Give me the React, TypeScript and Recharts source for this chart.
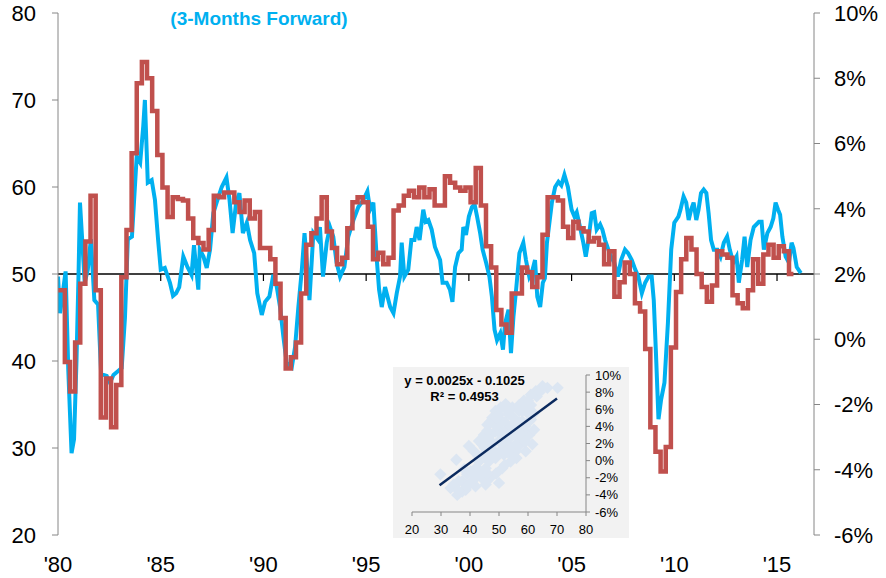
import React from 'react'
import { LineChart, Line, XAxis, YAxis, ReferenceLine, ScatterChart, Scatter } from 'recharts'

const FONT = '"Liberation Sans", Arial, sans-serif'
const BLUE = '#00b0f0'
const RED = '#c0504d'
const AXIS = '#868686'
const NAVY = '#0b2a5e'
const DIAMOND = '#dce6f2'

// ISM (3 months forward), [year, index]
const ismForward: [number, number][] = [
  [1980.0, 49.7], [1980.1, 45.5], [1980.37, 50.3], [1980.5, 39], [1980.66, 29.4], [1980.78, 31],
  [1980.9, 40], [1981.0, 50], [1981.07, 58.2], [1981.3, 49], [1981.45, 50.5], [1981.6, 54],
  [1981.77, 47], [1981.95, 46.5], [1982.1, 38.5], [1982.37, 38.3], [1982.53, 37.5], [1982.7, 38.4],
  [1982.9, 38.8], [1983.1, 39.2], [1983.26, 45], [1983.4, 54], [1983.6, 54.3], [1983.83, 63.5],
  [1984.0, 62.8], [1984.15, 67], [1984.23, 70], [1984.37, 60.5], [1984.56, 60.8], [1984.72, 58.5],
  [1984.87, 54], [1985.0, 50.5], [1985.2, 50.7], [1985.45, 49], [1985.6, 47.5], [1985.75, 47.8],
  [1985.9, 48.5], [1986.1, 52], [1986.3, 50.8], [1986.5, 49.9], [1986.62, 53.3], [1986.83, 48.2],
  [1986.9, 52.8], [1987.08, 52], [1987.24, 50.7], [1987.4, 52.8], [1987.56, 57], [1987.72, 58.2],
  [1987.97, 60], [1988.2, 61.1], [1988.35, 58.5], [1988.5, 54.7], [1988.67, 58.2], [1988.83, 59.3],
  [1989.0, 54.7], [1989.19, 55.9], [1989.35, 53.9], [1989.55, 52.4], [1989.7, 47.8], [1989.92, 45.3],
  [1990.08, 46.8], [1990.29, 47.4], [1990.48, 49.9], [1990.65, 48.5], [1990.81, 46.2], [1990.97, 42.8],
  [1991.13, 39.8], [1991.38, 39.3], [1991.54, 41.6], [1991.7, 46.2], [1991.87, 50.5], [1992.0, 54.7],
  [1992.14, 50.5], [1992.24, 47], [1992.43, 54.7], [1992.67, 53.9], [1992.75, 55.4], [1992.9, 49.7],
  [1993.08, 53.6], [1993.24, 55.4], [1993.4, 54.3], [1993.56, 51.3], [1993.73, 49.7], [1993.94, 50.8],
  [1994.13, 54.3], [1994.38, 56.2], [1994.62, 57.7], [1994.86, 58.5], [1995.06, 59.5], [1995.19, 57.4],
  [1995.35, 58.2], [1995.52, 51.6], [1995.63, 48.2], [1995.76, 46.2], [1995.92, 48.5], [1996.17, 46.2],
  [1996.33, 45.5], [1996.49, 47.8], [1996.65, 49.7], [1996.73, 53.6], [1996.86, 49.7], [1997.05, 50.5],
  [1997.2, 53.9], [1997.35, 53.9], [1997.46, 55.4], [1997.6, 53.9], [1997.78, 57.4], [1997.9, 56],
  [1998.03, 56.2], [1998.19, 55.1], [1998.35, 53.1], [1998.5, 52.2], [1998.6, 51.6], [1998.72, 49],
  [1998.92, 49], [1999.08, 48.2], [1999.2, 46.8], [1999.33, 50.8], [1999.49, 52.4], [1999.65, 52.8],
  [1999.73, 55.4], [1999.86, 54.5], [2000.0, 56.6], [2000.15, 57.7], [2000.28, 58], [2000.4, 56.6],
  [2000.55, 54.7], [2000.67, 52.8], [2000.84, 51.3], [2001.0, 49.7], [2001.12, 47.4], [2001.25, 43.6],
  [2001.37, 42.4], [2001.53, 43.2], [2001.66, 41.3], [2001.76, 44.3], [2001.93, 45.9], [2002.05, 40.9],
  [2002.17, 45.1], [2002.3, 48.2], [2002.46, 52.4], [2002.65, 53.6], [2002.78, 51.6], [2002.94, 49.7],
  [2003.1, 50.5], [2003.22, 51.6], [2003.33, 47.4], [2003.47, 46.2], [2003.6, 49], [2003.7, 49.5],
  [2003.8, 53.6], [2003.92, 55.9], [2004.04, 58.2], [2004.2, 60], [2004.36, 60.6], [2004.5, 60.2],
  [2004.65, 61.4], [2004.82, 60], [2005.0, 57.4], [2005.14, 56.6], [2005.25, 57.1], [2005.41, 55.4],
  [2005.57, 53.6], [2005.69, 52], [2005.82, 53.9], [2005.98, 57], [2006.1, 57.1], [2006.22, 55.1],
  [2006.39, 55.7], [2006.5, 55.1], [2006.63, 53.9], [2006.79, 52.8], [2006.92, 52], [2007.08, 51.3],
  [2007.25, 49.7], [2007.41, 51.6], [2007.6, 52.8], [2007.75, 52.4], [2007.93, 51.6], [2008.1, 50.5],
  [2008.25, 49.7], [2008.42, 47.8], [2008.58, 49], [2008.75, 49.7], [2008.9, 49.7], [2009.0, 47],
  [2009.1, 41.3], [2009.23, 33.3], [2009.36, 35.6], [2009.52, 37.5], [2009.69, 44.4], [2009.85, 52.8],
  [2010.0, 55.9], [2010.2, 56.6], [2010.3, 57.4], [2010.45, 58.9], [2010.58, 58.2], [2010.7, 56.2],
  [2010.82, 57.4], [2010.94, 58.2], [2011.07, 56.2], [2011.18, 57.4], [2011.3, 59.3], [2011.43, 59.7],
  [2011.56, 59.3], [2011.67, 57], [2011.79, 53.9], [2011.92, 52.8], [2012.1, 52.8], [2012.25, 52],
  [2012.41, 53.6], [2012.57, 54.3], [2012.7, 52.8], [2012.87, 51.3], [2013.03, 52], [2013.14, 49],
  [2013.3, 51.6], [2013.42, 54.3], [2013.55, 50.8], [2013.71, 53.9], [2013.87, 55.4], [2014.12, 56],
  [2014.25, 56], [2014.36, 52.8], [2014.53, 54.7], [2014.69, 55.4], [2014.82, 56.4], [2014.93, 58.2],
  [2015.05, 57.4], [2015.15, 56.8], [2015.26, 54.3], [2015.42, 52], [2015.58, 51.3], [2015.71, 53.6],
  [2015.8, 53], [2015.96, 50.8], [2016.16, 50.1],
]

// real GDP growth y/y (%), one value per quarter from 1980 Q1
const gdpQuarterly = [
  1.5, -0.7, -1.6, -0.1, 1.7, 3.0, 4.4, 1.5, -2.4, -1.2, -2.7, -1.4,
  1.9, 3.35, 5.7, 7.85, 8.5, 8.0, 7.0, 5.65, 4.65, 3.75, 4.35, 4.3,
  4.25, 3.7, 3.1, 2.95, 2.75, 3.35, 4.4, 4.35, 4.5, 4.5, 4.2, 3.9,
  4.25, 3.7, 3.9, 2.8, 2.8, 2.45, 1.7, 0.65, -0.9, -0.55, -0.1, 1.4,
  2.9, 3.25, 3.7, 4.35, 3.3, 2.8, 2.3, 2.5, 3.4, 4.2, 4.35, 4.2,
  3.45, 2.45, 2.65, 2.3, 2.5, 3.95, 4.1, 4.4, 4.55, 4.35, 4.65, 4.35,
  4.6, 4.1, 4.1, 5.0, 4.8, 4.65, 4.55, 4.65, 4.2, 5.25, 4.1, 2.85,
  2.2, 0.9, 0.45, 0.2, 1.4, 1.4, 2.2, 2.05, 1.6, 1.9, 3.2, 4.35,
  4.35, 4.25, 3.45, 3.1, 3.6, 3.4, 3.3, 3.0, 3.1, 2.9, 2.3, 2.7,
  1.3, 1.75, 2.35, 2.0, 1.1, 0.85, -0.3, -2.7, -3.45, -4.05, -3.3, -0.25,
  1.45, 2.45, 3.1, 2.75, 2.0, 1.6, 1.15, 1.65, 2.7, 2.6, 2.5, 1.35,
  1.1, 0.95, 1.5, 2.45, 1.7, 2.6, 2.9, 2.5, 2.85, 2.7, 2.0,
]
const gdpStart = 1980
const gdpEnd = 2015.8

const yearTicks = [1980, 1985, 1990, 1995, 2000, 2005, 2010, 2015]
const ismTicks = [20, 30, 40, 50, 60, 70, 80]
const gdpTicks = [-6, -4, -2, 0, 2, 4, 6, 8, 10]

// inset: ISM vs GDP growth, [index, %]
const scatterPoints: [number, number][] = [
  [29.8, -1.6], [33.3, -3.2], [35.6, -4.0], [35.3, 0.1], [37.3, -2.4], [38.5, -3.4], [40.2, -2.6],
  [41.9, -3.0], [39.6, 1.7], [41.3, 1.1], [43.1, -0.1], [43.6, -1.25], [45.4, -2.8], [50, -2.6],
  [44.8, 3.0], [44.2, 1.9], [46, 4.2], [46.5, -0.1], [47.7, 5.0], [48.8, 5.8], [50, 5.4],
  [48.3, 1.1], [50, 2.3], [51.1, -0.9], [52.3, 3.4], [53.4, 5.4], [54.6, 6.2], [54, -0.1],
  [55.2, 1.5], [55.8, 3.0], [56.9, 5.8], [58, 4.6], [58.6, 7.0], [59.2, 1.1], [59.8, 3.0],
  [60.4, 4.6], [61, 7.7], [61.5, 1.9], [62.7, 8.1], [65, 8.7], [66.7, 8.5], [70.2, 8.5],
  [59.8, 6.2], [56.9, 3.8], [52.3, 1.5], [50, 3.8], [47.1, 3.0], [48.8, 0.3], [45.4, -0.9],
  [41.9, -0.9], [39, -1.6], [36.1, -2.4], [34.4, -2.8], [37.3, -3.6], [40.2, -1.25], [54.6, 3.0],
  [53.4, 1.9], [55.8, 4.6], [51.1, 4.6], [46.5, 1.9], [48.8, 3.4], [52.3, 6.6], [50.6, 6.2],
  [57.5, 2.6], [55.8, 1.1], [51.7, 0.7], [44.8, 0.7], [43.1, 2.3], [60.4, 3.0], [58, 5.8],
  [62.1, 3.6], [45, 2.5], [46, 3.5], [47, 4.5], [48, 2], [49, 4], [50, 1], [51, 3], [52, 4.5],
  [53, 2.5], [54, 4], [55, 5], [56, 2], [57, 4.5], [58, 3.2], [59, 4], [60, 5.5], [61, 6.5],
  [63, 7.5], [64, 8], [60, 7], [57, 6.5], [53, 5.8], [49, 5], [47, 1], [45, 1.5], [43, 0.5],
  [42, -2], [44, -2], [47, -2], [49, -1.5], [52, -0.5], [54, 0.8], [56, 0.3], [38, -1],
  [36, -3.5], [39, -3], [42, -1.5], [46, -1.5], [51, 2], [53, 1], [57, 1.8], [61, 4.8],
  [62, 5.5], [59, 2.2],
]
const fitSlope = 0.0025
const fitIntercept = -0.1025
const fitRange = [29.5, 70]
const scatterXTicks = [20, 30, 40, 50, 60, 70, 80]

const W = 886
const H = 578
const TOP = 13
const X_H = 43
const PLOT_H = H - TOP - X_H
const y50 = TOP + (PLOT_H * (80 - 50)) / 60

const ismData = ismForward.map(([t, v]) => ({ t, v }))
const gdpData = gdpQuarterly.map((v, i) => ({ t: i === 0 ? gdpStart : gdpStart + i / 4 + 1 / 12, v }))
gdpData.push({ t: gdpEnd, v: gdpQuarterly[gdpQuarterly.length - 1] })

const scatterData = scatterPoints.map(([x, y]) => ({ x, y }))
const fitData = fitRange.map((x) => ({ x, y: (fitSlope * x + fitIntercept) * 100 }))

const yearLabel = (v: number) => "'" + String(v).slice(2)

function YearTick(props: any) {
  const { x, y, payload } = props
  return (
    <g>
      {payload.value > yearTicks[0] && (
        <line x1={x} x2={x} y1={y50} y2={y50 + 7} stroke="#000" strokeWidth={1.2} />
      )}
      <text x={x} y={y} dy={35} textAnchor="middle" fontSize={22} fill="#000" fontFamily={FONT}>
        {yearLabel(payload.value)}
      </text>
    </g>
  )
}

function Diamond(props: any) {
  const { cx, cy } = props
  const r = 6.2
  return <polygon points={`${cx},${cy - r} ${cx + r},${cy} ${cx},${cy + r} ${cx - r},${cy}`} fill={DIAMOND} />
}

export default function App() {
  return (
    <div style={{ position: 'relative', width: W, height: H, background: '#fff', fontFamily: FONT }}>
      <style>{'body{margin:0}'}</style>
      <LineChart width={W} height={H} margin={{ top: TOP, right: 0, bottom: 0, left: 0 }}>
        <XAxis
          dataKey="t"
          type="number"
          domain={[1980, 2016.8]}
          ticks={yearTicks}
          allowDataOverflow
          axisLine={false}
          tickLine={false}
          tickSize={0}
          height={X_H}
          interval={0}
          tick={<YearTick />}
        />
        <YAxis
          yAxisId="ism"
          domain={[20, 80]}
          ticks={ismTicks}
          width={58}
          stroke={AXIS}
          tickSize={6}
          tickMargin={16}
          tick={{ fill: '#000', fontSize: 22, fontFamily: FONT }}
        />
        <YAxis
          yAxisId="gdp"
          orientation="right"
          domain={[-6, 10]}
          ticks={gdpTicks}
          width={72}
          stroke={AXIS}
          tickSize={6}
          tickMargin={14}
          tickFormatter={(v) => `${v}%`}
          tick={{ fill: '#000', fontSize: 22, fontFamily: FONT }}
        />
        <ReferenceLine yAxisId="ism" y={50} stroke="#000" strokeWidth={1.5} />
        <Line
          yAxisId="ism"
          data={ismData}
          dataKey="v"
          type="linear"
          stroke={BLUE}
          strokeWidth={4}
          dot={false}
          isAnimationActive={false}
        />
        <Line
          yAxisId="gdp"
          data={gdpData}
          dataKey="v"
          type="stepAfter"
          stroke={RED}
          strokeWidth={4.5}
          dot={false}
          isAnimationActive={false}
        />
      </LineChart>

      <div
        style={{
          position: 'absolute',
          left: 259 - 150,
          top: 8,
          width: 300,
          textAlign: 'center',
          color: BLUE,
          fontWeight: 'bold',
          fontSize: 19,
          lineHeight: '22px',
        }}
      >
        (3-Months Forward)
      </div>

      <div style={{ position: 'absolute', left: 393, top: 367, width: 236, height: 171, background: '#f2f2f2' }}>
        <ScatterChart width={236} height={171} margin={{ top: 8, right: 0, bottom: 0, left: 19 }}>
          <XAxis
            dataKey="x"
            type="number"
            domain={[20, 80]}
            ticks={scatterXTicks}
            interval={0}
            height={26}
            stroke={AXIS}
            tickSize={4}
            tickMargin={9}
            tick={{ fill: '#000', fontSize: 13, fontFamily: FONT }}
          />
          <YAxis
            dataKey="y"
            type="number"
            orientation="right"
            domain={[-6, 10]}
            ticks={gdpTicks}
            interval={0}
            width={43}
            stroke={AXIS}
            tickSize={4}
            tickMargin={5}
            tickFormatter={(v) => `${v}%`}
            tick={{ fill: '#000', fontSize: 13, fontFamily: FONT }}
          />
          <Scatter data={scatterData} shape={<Diamond />} isAnimationActive={false} />
          <Scatter
            data={fitData}
            line={{ stroke: NAVY, strokeWidth: 2.5 }}
            shape={() => <g />}
            isAnimationActive={false}
          />
        </ScatterChart>
        <div
          style={{
            position: 'absolute',
            left: 0,
            top: 6,
            width: 143,
            textAlign: 'center',
            fontWeight: 'bold',
            fontSize: 13,
            lineHeight: '16px',
            color: '#000',
          }}
        >
          y = 0.0025x - 0.1025
          <br />
          R² = 0.4953
        </div>
      </div>
    </div>
  )
}
